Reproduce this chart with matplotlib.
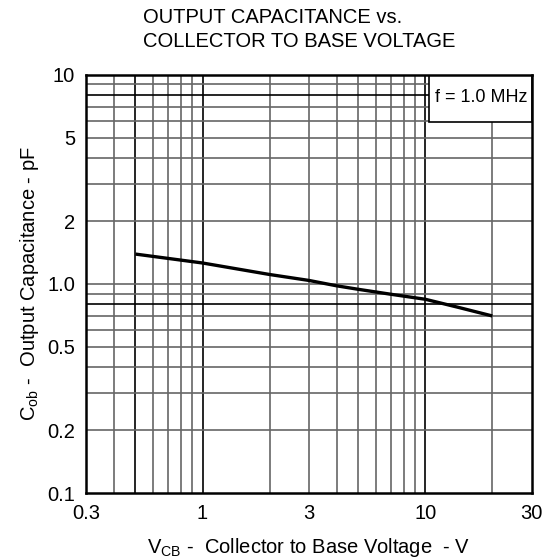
import matplotlib.pyplot as plt
from matplotlib.patches import Rectangle

plt.rcParams['font.family'] = ['Liberation Sans', 'DejaVu Sans']
plt.rcParams['mathtext.fontset'] = 'custom'
plt.rcParams['mathtext.rm'] = 'Liberation Sans'

# Curve
vcb = [0.5, 1, 2, 3, 4, 5, 7, 10, 14, 20]
cob = [1.39, 1.26, 1.11, 1.04, 0.98, 0.943, 0.893, 0.845, 0.774, 0.703]

# Grid lines (datasheet style), darker ones listed separately
x_grid = [0.4, 0.5, 0.6, 0.7, 0.8, 0.9, 1, 2, 3, 4, 5, 6, 7, 8, 9, 10, 20]
x_dark = [0.5, 1, 10]
y_grid = [0.2, 0.3, 0.4, 0.5, 0.6, 0.7, 0.8, 0.9, 1, 2, 3, 4, 5, 6, 7, 8, 9]
y_dark = [0.8, 8]

x_ticks = [0.3, 1, 3, 10, 30]
x_ticklabels = ['0.3', '1', '3', '10', '30']
y_ticks = [0.1, 0.2, 0.5, 1, 2, 5, 10]
y_ticklabels = ['0.1', '0.2', '0.5', '1.0', '2', '5', '10']

fig = plt.figure(figsize=(5.48, 5.59), dpi=100)
ax = fig.add_axes([0.157, 0.118, 0.813, 0.748])
ax.set_xscale('log')
ax.set_yscale('log')
ax.set_xlim(0.3, 30)
ax.set_ylim(0.1, 10)

for x in x_grid:
    c = 'black' if x in x_dark else '#666666'
    ax.axvline(x, color=c, lw=1.2, zorder=1)
for y in y_grid:
    c = 'black' if y in y_dark else '#666666'
    ax.axhline(y, color=c, lw=1.2, zorder=1)

ax.plot(vcb, cob, color='black', lw=2.4, zorder=3, solid_capstyle='butt')

ax.set_xticks(x_ticks)
ax.set_xticklabels(x_ticklabels)
ax.set_yticks(y_ticks)
ax.set_yticklabels(y_ticklabels)
ax.minorticks_off()
ax.tick_params(length=0, labelsize=14.5, pad=8)

for s in ax.spines.values():
    s.set_linewidth(1.8)
    s.set_zorder(6)

# condition box in the upper right corner
ax.add_patch(Rectangle((0.770, 0.888), 0.23, 0.112, transform=ax.transAxes,
                       fc='white', ec='black', lw=1.2, zorder=4))
ax.text(0.886, 0.945, 'f = 1.0 MHz', transform=ax.transAxes, ha='center', va='center',
        fontsize=13, zorder=5)

ax.set_xlabel(r'$\mathregular{V_{CB}}$ -  Collector to Base Voltage  - V', fontsize=14.5, labelpad=9)
ax.set_ylabel(r'$\mathregular{C_{ob}}$ -  Output Capacitance - pF', fontsize=14.5, labelpad=4)

fig.text(0.261, 0.985, 'OUTPUT CAPACITANCE vs.\nCOLLECTOR TO BASE VOLTAGE',
         ha='left', va='top', fontsize=14.5, linespacing=1.3)

fig.savefig('out.png', dpi=100)
